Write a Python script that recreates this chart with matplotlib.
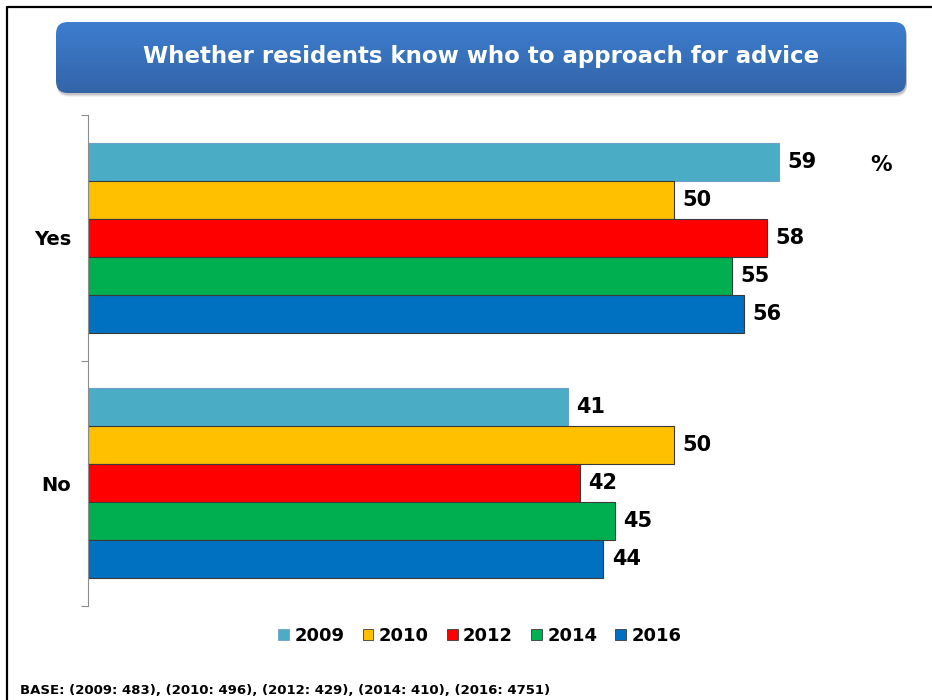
import numpy as np
import matplotlib
matplotlib.use("Agg")
import matplotlib.pyplot as plt
from matplotlib.patches import FancyBboxPatch

categories = ["Yes", "No"]
years = ["2009", "2010", "2012", "2014", "2016"]
values = {
    "2009": [59, 41],
    "2010": [50, 50],
    "2012": [58, 42],
    "2014": [55, 45],
    "2016": [56, 44],
}
colors = ["#4bacc6", "#ffc000", "#ff0000", "#00b050", "#0070c0"]
edges = ["#6f9fc8", "#3a3a3a", "#3a3a3a", "#3a3a3a", "#3a3a3a"]
title = "Whether residents know who to approach for advice"
base_note = "BASE: (2009: 483), (2010: 496), (2012: 429), (2014: 410), (2016: 4751)"

W, H = 932, 700
fig = plt.figure(figsize=(W / 100, H / 100), dpi=100)


def px(x, y, w, h):
    # pixel box (from top-left) -> figure fraction rect
    return [x / W, 1 - (y + h) / H, w / W, h / H]


# background layer in pixel coordinates: frame and title banner
bg = fig.add_axes([0, 0, 1, 1], zorder=-1)
bg.set_xlim(0, W)
bg.set_ylim(H, 0)
bg.set_axis_off()
bg.plot([7, 7, W], [H, 7, 7], color="black", lw=1.6)

for i, a in enumerate([0.05, 0.08, 0.12]):
    d = 4 - i
    bg.add_patch(FancyBboxPatch((56 + 1, 22 + d), 850, 71,
                                boxstyle="round,pad=0,rounding_size=12",
                                fc="black", ec="none", alpha=a, zorder=1))
banner = FancyBboxPatch((56, 22), 850, 71,
                        boxstyle="round,pad=0,rounding_size=12",
                        fc="none", ec="none")
bg.add_patch(banner)
grad = np.linspace(0, 1, 100)[:, None, None]
top = np.array([0x3d, 0x7e, 0xcf]) / 255
bot = np.array([0x33, 0x64, 0xa8]) / 255
img = np.repeat(top * (1 - grad) + bot * grad, 2, axis=1)
im = bg.imshow(img, extent=[56, 906, 93, 22], aspect="auto",
               interpolation="bilinear", zorder=3)
im.set_clip_path(banner)
bg.set_xlim(0, W)
bg.set_ylim(H, 0)
bg.text(481, 56, title, ha="center", va="center", color="white",
        fontsize=16.5, fontweight="bold", zorder=4)

# bar chart
ax = fig.add_axes(px(88, 115, 820, 491))
h = 0.155
centers = np.array([1.5, 0.5])
for i, yr in enumerate(years):
    ypos = centers + (2 - i) * h
    ax.barh(ypos, values[yr], height=h, color=colors[i], edgecolor=edges[i],
            linewidth=0.8)
    for y, v in zip(ypos, values[yr]):
        ax.text(v + 0.7, y, str(v), va="center", ha="left",
                fontsize=15, fontweight="bold")

ax.set_xlim(0, 70)
ax.set_ylim(0, 2)
ax.patch.set_alpha(0)
for s in ["top", "right", "bottom"]:
    ax.spines[s].set_visible(False)
ax.spines["left"].set_color("#8c8c8c")
ax.set_xticks([])
ax.set_yticks([0, 1, 2])
ax.set_yticklabels([])
ax.tick_params(axis="y", which="major", length=5, color="#8c8c8c")
ax.set_yticks(centers, minor=True)
ax.set_yticklabels(categories, minor=True, fontsize=14, fontweight="bold")
ax.tick_params(axis="y", which="minor", length=0, pad=12)

fig.text(881 / W, 1 - 165 / H, "%", ha="center", va="center",
         fontsize=15.5, fontweight="bold")

handles = [plt.Rectangle((0, 0), 1, 1, fc=c, ec=e, lw=0.6)
           for c, e in zip(colors, edges)]
fig.legend(handles, years, loc="center", bbox_to_anchor=(480 / W, 1 - 636 / H),
           ncol=5, frameon=False, handlelength=0.6, handleheight=0.6,
           handletextpad=0.3, columnspacing=1.0,
           prop={"size": 13, "weight": "bold"})

fig.text(20 / W, 1 - 690 / H, base_note, ha="left", va="center",
         fontsize=9.5, fontweight="bold")

fig.savefig("out.png", dpi=100)
